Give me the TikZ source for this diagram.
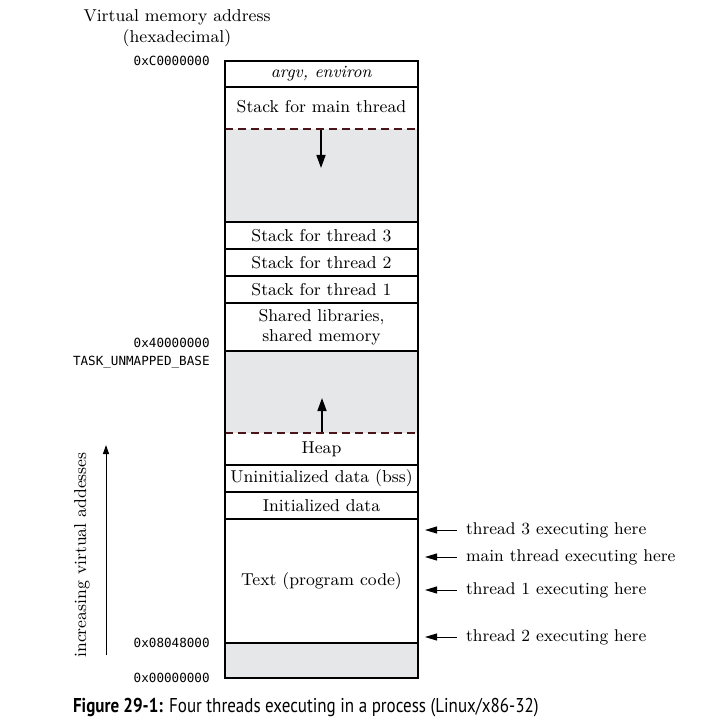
\documentclass[tikz,border=0pt]{standalone}
\usepackage{fontspec}
\newfontfamily\capfont{PT Sans}
\setmonofont{DejaVu Sans Mono}
\usetikzlibrary{arrows.meta}
\definecolor{vmGrey}{HTML}{E6E7E9}
\definecolor{vmRed}{HTML}{4A1518}
\tikzset{
  boxline/.style     = {line width=1pt, black},
  gapline/.style     = {vmRed, line width=1pt, dash pattern=on 4pt off 2.5pt},
  growarrow/.style   = {-{Triangle[length=6.5pt, width=4.5pt]}, line width=0.8pt},
  threadarrow/.style = {-{Triangle[length=6pt, width=3.5pt]}, line width=0.5pt},
  seglbl/.style      = {font=\fontsize{8.6}{10}\selectfont, align=center},
  addrlbl/.style     = {font=\fontsize{6.3}{7}\selectfont\ttfamily, anchor=east, inner sep=1pt},
  thrlbl/.style      = {font=\fontsize{8.5}{10}\selectfont, anchor=west},
}
\begin{document}
\begin{tikzpicture}[x=0.5pt,y=-0.5pt]
  \useasboundingbox (0,0) rectangle (705,721);
  \fill[vmGrey] (225,129) rectangle (418,222);
  \fill[vmGrey] (225,351) rectangle (418,433);
  \fill[vmGrey] (225,643) rectangle (418,678);
  \foreach \y in {87,222,249,276,303,351,465,492,519,643}
    \draw[boxline] (225,\y) -- (418,\y);
  \foreach \y in {129,433}
    \draw[gapline] (225,\y) -- (418,\y);
  \draw[boxline] (225,61) rectangle (418,678);
  \foreach \n/\y/\t in {argv/74/{\textit{argv, environ}}, mainstack/107/Stack for main thread,
      stackc/235.5/Stack for thread 3, stackb/262.5/Stack for thread 2, stacka/289.5/Stack for thread 1,
      shlib/327/{Shared libraries,\\shared memory}, heap/449/Heap, bss/478.5/Uninitialized data (bss),
      initdata/505.5/Initialized data, text/581/Text (program code)}
    \node[seglbl] (\n) at (321.5,\y) {\t};
  \coordinate (stacktop) at (321,130);
  \coordinate (stacktip) at (321,168);
  \draw[growarrow] (stacktop) -- (stacktip);
  \coordinate (heaptop) at (322,432);
  \coordinate (heaptip) at (322,398);
  \draw[growarrow] (heaptop) -- (heaptip);
  \node[seglbl, font=\fontsize{8.6}{10.5}\selectfont] (head) at (177,28) {Virtual memory address\\(hexadecimal)};
  \foreach \n/\y/\t in {topaddr/61/0xC0000000, mapaddr/343/0x40000000, mapbase/362/TASK\_UNMAPPED\_BASE,
      textaddr/643/0x08048000, zeroaddr/678/0x00000000}
    \node[addrlbl] (\n) at (212,\y) {\t};
  \foreach \n/\y/\t in {thrc/530/thread 3, thrmain/557/main thread, thra/590/thread 1, thrb/637/thread 2}
    {
      \node[thrlbl] (\n) at (459,\y) {\t\ executing here};
      \coordinate (\n tip) at (425,\y);
      \draw[threadarrow, shorten <=1pt] (\n.west) -- (\n tip);
    }
  \coordinate (incbot) at (106,655);
  \coordinate (inctop) at (106,445);
  \draw[-{Triangle[length=4.5pt, width=3pt]}, line width=0.5pt] (incbot) -- (inctop);
  \node[seglbl, rotate=90] (inclbl) at (82,555) {increasing virtual addesses};
  \node[anchor=west, font=\capfont\fontsize{10}{12}\selectfont] (caption) at (66,708)
    {\scalebox{0.85}[1]{\textbf{Figure 29-1:} Four threads executing in a process (Linux/x86-32)}};
\end{tikzpicture}
\end{document}
